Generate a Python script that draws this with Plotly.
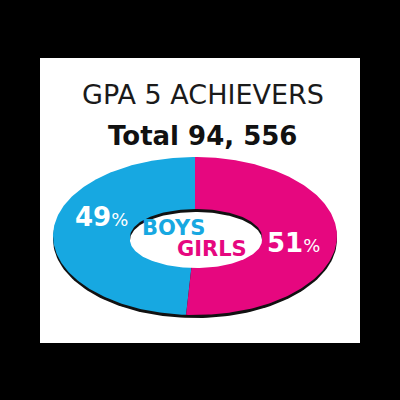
import numpy as np
import plotly.graph_objects as go

BG = "#000000"
PANEL = "#ffffff"
BLUE = "#17a8e1"
PINK = "#e6077f"
FONT = "DejaVu Sans, sans-serif"

title_lines = ["GPA 5 ACHIEVERS", "Total 94, 556"]
groups = ["BOYS", "GIRLS"]
shares = [49, 51]
group_colors = [BLUE, PINK]

# ellipse geometry in pixel space (axes are mapped 1:1 to the 400x400 page)
CX, CY, RX, RY = 195, 236, 142, 79
IN_CX, IN_CY, IN_RX, IN_RY = 196, 237, 66, 28
RIM = 3


def ellipse(cx, cy, rx, ry, t0=0.0, t1=2 * np.pi, center=False, n=200):
    t = np.linspace(t0, t1, n)
    x = list(cx + rx * np.cos(t))
    y = list(cy - ry * np.sin(t))
    if center:
        x = [cx] + x + [cx]
        y = [cy] + y + [cy]
    return x, y


def poly(x, y, color):
    return go.Scatter(x=x, y=y, mode="lines", fill="toself", fillcolor=color,
                      line=dict(color=color, width=0), hoverinfo="skip",
                      showlegend=False)


fig = go.Figure()

# dark rim under the ring
fig.add_trace(poly(*ellipse(CX, CY + RIM, RX, RY), "#111111"))

# sectors: boys start at the top and run counter-clockwise
start = np.pi / 2
total = sum(shares)
for share, color in zip(shares, group_colors):
    sweep = 2 * np.pi * share / total
    fig.add_trace(poly(*ellipse(CX, CY, RX, RY, start, start + sweep, center=True), color))
    start += sweep

# hole with its inner wall
fig.add_trace(poly(*ellipse(IN_CX, IN_CY, IN_RX, IN_RY), "#111111"))
fig.add_trace(poly(*ellipse(IN_CX, IN_CY + RIM, IN_RX, IN_RY), PANEL))

fig.add_shape(type="rect", xref="x", yref="y", x0=40, x1=360, y0=58, y1=343,
              fillcolor=PANEL, line=dict(width=0), layer="below")

fig.add_annotation(x=203, y=94, text=title_lines[0], showarrow=False,
                   font=dict(family=FONT, size=27, color="#1a1a1a"))
fig.add_annotation(x=202, y=136, text=f"<b>{title_lines[1]}</b>", showarrow=False,
                   font=dict(family=FONT, size=26, color="#111111"))

fig.add_annotation(x=101, y=217,
                   text=f"<b>{shares[0]}</b><span style='font-size:18px'>%</span>",
                   showarrow=False, font=dict(family=FONT, size=26, color="white"))
fig.add_annotation(x=293, y=243,
                   text=f"<b>{shares[1]}</b><span style='font-size:18px'>%</span>",
                   showarrow=False, font=dict(family=FONT, size=26, color="white"))

fig.add_annotation(x=173, y=228, text=f"<b>{groups[0]}</b>", showarrow=False,
                   font=dict(family=FONT, size=21, color=BLUE))
fig.add_annotation(x=212, y=249, text=f"<b>{groups[1]}</b>", showarrow=False,
                   font=dict(family=FONT, size=21, color=PINK))

fig.update_layout(
    width=400, height=400,
    paper_bgcolor=BG, plot_bgcolor=BG,
    margin=dict(l=0, r=0, t=0, b=0),
    xaxis=dict(range=[0, 400], visible=False, fixedrange=True),
    yaxis=dict(range=[400, 0], visible=False, fixedrange=True),
    showlegend=False,
)

fig.write_html("out.html", config={"displayModeBar": False},
               post_script="document.body.style.margin='0';")
